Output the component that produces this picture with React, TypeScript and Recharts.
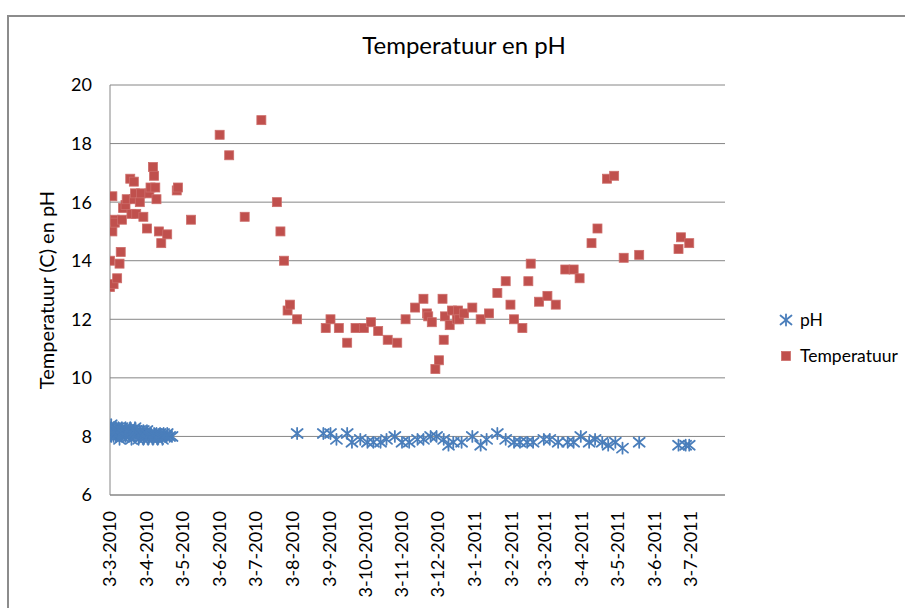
import React from 'react';
import { ScatterChart, Scatter, XAxis, YAxis, CartesianGrid } from 'recharts';

// Dates on the x axis (d-m-yyyy), days counted from 3-3-2010
const xTickLabels = [
  '3-3-2010', '3-4-2010', '3-5-2010', '3-6-2010', '3-7-2010', '3-8-2010',
  '3-9-2010', '3-10-2010', '3-11-2010', '3-12-2010', '3-1-2011', '3-2-2011',
  '3-3-2011', '3-4-2011', '3-5-2011', '3-6-2011', '3-7-2011',
];
const yTicks = [6, 8, 10, 12, 14, 16, 18, 20];

// Temperatuur: days since 3-3-2010 and values (°C)
const tempDays = [
  0, 0, 2, 2, 3, 4, 4, 6, 8, 9, 10, 11, 13, 14, 17, 18, 20, 20, 21, 22, 25, 26, 28, 31, 33, 34, 36, 37, 38, 39, 41, 43, 48,
  56, 57, 68, 92, 100, 113, 127, 140, 143, 146, 149, 151, 157,
  181, 185, 192, 199, 206, 213, 219, 225, 233, 241, 248, 256, 263, 266, 267, 270, 273, 276, 279, 280, 281, 285, 287, 291, 292, 293, 297,
  304, 311, 318, 325, 332, 336, 339, 346, 351, 353, 360, 367, 374, 382, 389, 394, 404, 409, 417, 423, 431, 444, 477, 479, 486,
];
const tempValues = [
  14.0, 13.1, 15.0, 16.2, 13.2, 15.4, 15.3, 13.4, 13.9, 14.3, 15.4, 15.8, 15.9, 16.1, 16.8, 15.6, 16.7, 16.1, 16.3, 15.6, 16.0, 16.3, 15.5, 15.1, 16.3, 16.5, 17.2, 16.9, 16.5, 16.1, 15.0, 14.6, 14.9,
  16.4, 16.5, 15.4, 18.3, 17.6, 15.5, 18.8, 16.0, 15.0, 14.0, 12.3, 12.5, 12.0,
  11.7, 12.0, 11.7, 11.2, 11.7, 11.7, 11.9, 11.6, 11.3, 11.2, 12.0, 12.4, 12.7, 12.2, 12.1, 11.9, 10.3, 10.6, 12.7, 11.3, 12.1, 11.8, 12.3, 12.0, 12.3, 12.0, 12.2,
  12.4, 12.0, 12.2, 12.9, 13.3, 12.5, 12.0, 11.7, 13.3, 13.9, 12.6, 12.8, 12.5, 13.7, 13.7, 13.4, 14.6, 15.1, 16.8, 16.9, 14.1, 14.2, 14.4, 14.8, 14.6,
];

// pH: days since 3-3-2010 and values
const phDays = [
  0, 0, 1, 1, 2, 3, 3, 4, 5, 5, 6, 7, 7, 8, 9, 10, 10, 11, 12, 13, 13, 14, 15, 16, 17, 17, 18, 19, 20, 21, 21, 22, 23, 24, 25, 26, 27, 28, 28, 29,
  30, 31, 32, 33, 34, 35, 36, 37, 38, 39, 40, 41, 42, 43, 44, 45, 46, 47, 48, 50, 52,
  157, 179, 185, 190, 199, 203, 210, 216, 221, 227, 232, 239, 245, 251, 258, 263, 269, 274, 280, 284, 288, 295,
  304, 311, 316, 325, 332, 339, 344, 350, 355, 364, 369, 376, 384, 389, 395, 402, 407, 413, 418, 424, 430, 444, 477, 483, 486,
];
const phValues = [
  8.3, 8.1, 8.4, 8.0, 8.2, 8.3, 8.0, 8.1, 8.3, 8.0, 8.2, 8.1, 8.3, 7.9, 8.2, 8.3, 8.0, 8.1, 8.2, 8.0, 8.3, 8.1, 8.2, 8.0, 8.3, 8.1, 7.9, 8.2, 8.1, 8.3, 8.0, 8.2, 8.1, 7.9, 8.2, 8.0, 8.1, 8.2, 7.9, 8.0,
  8.1, 8.2, 7.9, 8.0, 8.1, 8.0, 7.9, 8.1, 8.0, 8.1, 7.9, 8.0, 8.1, 8.0, 7.9, 8.1, 8.0, 8.0, 8.1, 8.0, 8.0,
  8.1, 8.1, 8.1, 7.9, 8.1, 7.8, 7.9, 7.8, 7.8, 7.8, 7.9, 8.0, 7.8, 7.8, 7.9, 7.9, 8.0, 8.0, 7.9, 7.7, 7.8, 7.8,
  8.0, 7.7, 7.9, 8.1, 7.9, 7.8, 7.8, 7.8, 7.8, 7.9, 7.9, 7.8, 7.8, 7.8, 8.0, 7.8, 7.9, 7.8, 7.7, 7.8, 7.6, 7.8, 7.7, 7.7, 7.7,
];

const START = Date.UTC(2010, 2, 3);
const labelToDay = (s: string) => {
  const [d, m, y] = s.split('-').map(Number);
  return Math.round((Date.UTC(y, m - 1, d) - START) / 86400000);
};
const xTicks = xTickLabels.map(labelToDay);
const dayToLabel: Record<number, string> = {};
xTicks.forEach((t, i) => { dayToLabel[t] = xTickLabels[i]; });

const tempData = tempDays.map((d, i) => ({ x: d, y: tempValues[i] }));
const phData = phDays.map((d, i) => ({ x: d, y: phValues[i] }));

const FONT = 'Lato, "Open Sans", sans-serif';
const GRID = '#868686';
const RED = '#C0504D';
const BLUE = '#4A7EBB';

const SquareShape = (props: any) => {
  const { cx, cy } = props;
  if (cx == null || cy == null) return null;
  return <rect x={cx - 4.5} y={cy - 4.5} width={9} height={9} fill={RED} stroke="#CD6D6A" strokeWidth={0.8} />;
};

const StarShape = (props: any) => {
  const { cx, cy } = props;
  if (cx == null || cy == null) return null;
  return (
    <g stroke={BLUE} strokeWidth={1.8} strokeLinecap="round">
      <line x1={cx} y1={cy - 5.5} x2={cx} y2={cy + 5.5} />
      <line x1={cx - 5.5} y1={cy - 4.5} x2={cx + 5.5} y2={cy + 4.5} />
      <line x1={cx - 5.5} y1={cy + 4.5} x2={cx + 5.5} y2={cy - 4.5} />
    </g>
  );
};

const XTick = (props: any) => {
  const { x, y, payload } = props;
  const ty = y + 8;
  return (
    <text
      x={x}
      y={ty}
      dy="0.36em"
      textAnchor="end"
      transform={`rotate(-90, ${x}, ${ty})`}
      fontFamily={FONT}
      fontSize={18}
      fill="#000"
    >
      {dayToLabel[payload.value] ?? ''}
    </text>
  );
};

const YLabel = () => (
  <text x={47} y={290} transform="rotate(-90, 47, 290)" textAnchor="middle" dy="0.36em" fontFamily={FONT} fontSize={20} fill="#000">
    Temperatuur (C) en pH
  </text>
);

export default function App() {
  return (
    <div style={{ position: 'fixed', left: 0, top: 0, width: 905, height: 608, overflow: 'hidden', background: '#fff' }}>
      <div style={{ position: 'absolute', left: 7, top: 15, width: 1000, height: 800, border: '2px solid #8c8c8c', boxSizing: 'border-box' }} />
      <div style={{ position: 'absolute', left: 0, top: 0 }}>
        <ScatterChart width={905} height={608} margin={{ top: 85, right: 180, bottom: 0, left: 0 }}>
          <CartesianGrid vertical={false} stroke={GRID} />
          <XAxis
            type="number"
            dataKey="x"
            domain={[0, 516]}
            ticks={xTicks}
            interval={0}
            tick={<XTick />}
            tickLine={false}
            axisLine={{ stroke: GRID }}
            height={113}
            allowDataOverflow
          />
          <YAxis
            type="number"
            dataKey="y"
            domain={[6, 20]}
            ticks={yTicks}
            interval={0}
            width={110}
            tickLine={false}
            tickSize={0}
            tickMargin={18}
            axisLine={{ stroke: GRID }}
            tick={{ fontFamily: FONT, fontSize: 18, fill: '#000' }}
            label={<YLabel />}
          />
          <Scatter name="pH" data={phData} shape={<StarShape />} isAnimationActive={false} />
          <Scatter name="Temperatuur" data={tempData} shape={<SquareShape />} isAnimationActive={false} />
        </ScatterChart>
      </div>
      <div style={{ position: 'absolute', left: 464, top: 44, transform: 'translate(-50%, -50%)', fontFamily: FONT, fontSize: 24, color: '#000', whiteSpace: 'nowrap' }}>
        Temperatuur en pH
      </div>
      <div style={{ position: 'absolute', left: 778, top: 302, fontFamily: FONT, fontSize: 17.5, color: '#000', lineHeight: '36px' }}>
        <div style={{ display: 'flex', alignItems: 'center' }}>
          <svg width={18} height={14} style={{ marginRight: 4 }}>
            <StarShape cx={8} cy={7} />
          </svg>
          <span>pH</span>
        </div>
        <div style={{ display: 'flex', alignItems: 'center' }}>
          <svg width={18} height={14} style={{ marginRight: 4 }}>
            <SquareShape cx={8} cy={7} />
          </svg>
          <span>Temperatuur</span>
        </div>
      </div>
    </div>
  );
}
